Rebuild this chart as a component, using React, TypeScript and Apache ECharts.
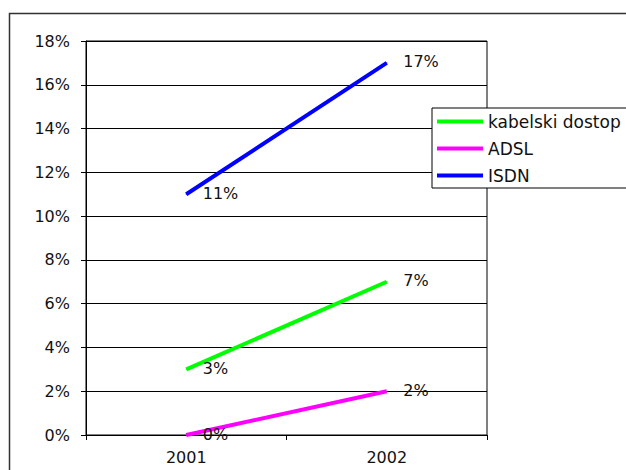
import React, { useEffect, useRef } from "react";
import * as echarts from "echarts";

const years = ["2001", "2002"];
const kabelski = [0.03, 0.07];
const adsl = [0.0, 0.02];
const isdn = [0.11, 0.17];
const seriesNames = ["kabelski dostop", "ADSL", "ISDN"];
const seriesColors = ["#00ff00", "#ff00ff", "#0000ff"];

const FONT = "DejaVu Sans";
const pct = (v: number) => `${Math.round(v * 100)}%`;

export default function App() {
  const ref = useRef<HTMLDivElement>(null);

  useEffect(() => {
    if (!ref.current) return;
    const chart = echarts.init(ref.current, undefined, { renderer: "svg" });
    const values = [kabelski, adsl, isdn];

    chart.setOption({
      animation: false,
      backgroundColor: "#ffffff",
      textStyle: { fontFamily: FONT },
      graphic: [
        {
          type: "rect",
          z: -10,
          silent: true,
          shape: { x: 9.5, y: 13.5, width: 700, height: 500 },
          style: { fill: "none", stroke: "#333333", lineWidth: 1.5 },
        },
      ],
      grid: {
        left: 86,
        right: 139,
        top: 41,
        bottom: 35,
        show: true,
        borderColor: "#000000",
        borderWidth: 1,
        backgroundColor: "transparent",
      },
      legend: {
        orient: "vertical",
        left: 432,
        top: 108,
        padding: [5, 60, 4, 5],
        backgroundColor: "#ffffff",
        borderColor: "#000000",
        borderWidth: 1,
        icon: "rect",
        itemWidth: 46,
        itemHeight: 4,
        itemGap: 10,
        data: seriesNames,
        textStyle: {
          fontFamily: FONT,
          fontSize: 17,
          lineHeight: 17,
          color: "#111111",
        },
      },
      xAxis: {
        type: "category",
        data: years,
        boundaryGap: true,
        axisLine: { lineStyle: { color: "#000000", width: 1 } },
        axisTick: { show: true, interval: 0, length: 5, lineStyle: { color: "#000000" } },
        axisLabel: { fontFamily: FONT, fontSize: 16, color: "#111111", margin: 14 },
        splitLine: { show: false },
      },
      yAxis: {
        type: "value",
        min: 0,
        max: 0.18,
        interval: 0.02,
        axisLine: { show: true, lineStyle: { color: "#000000", width: 1 } },
        axisTick: { show: true, length: 5, lineStyle: { color: "#000000" } },
        axisLabel: {
          fontFamily: FONT,
          fontSize: 16,
          color: "#111111",
          margin: 16,
          formatter: (v: number) => pct(v),
        },
        splitLine: { show: true, lineStyle: { color: "#000000", width: 1 } },
      },
      series: seriesNames.map((name, i) => ({
        name,
        type: "line",
        data: values[i],
        symbol: "circle",
        symbolSize: 1,
        showSymbol: true,
        color: seriesColors[i],
        itemStyle: { color: seriesColors[i] },
        lineStyle: { color: seriesColors[i], width: 4 },
        label: {
          show: true,
          position: "right",
          distance: 16,
          offset: [0, -1],
          fontFamily: FONT,
          fontSize: 16,
          color: "#111111",
          formatter: (p: any) => pct(p.value),
        },
        z: 3,
      })),
    });

    return () => chart.dispose();
  }, []);

  return (
    <div
      ref={ref}
      style={{ position: "fixed", left: 0, top: 0, width: 626, height: 470 }}
    />
  );
}
